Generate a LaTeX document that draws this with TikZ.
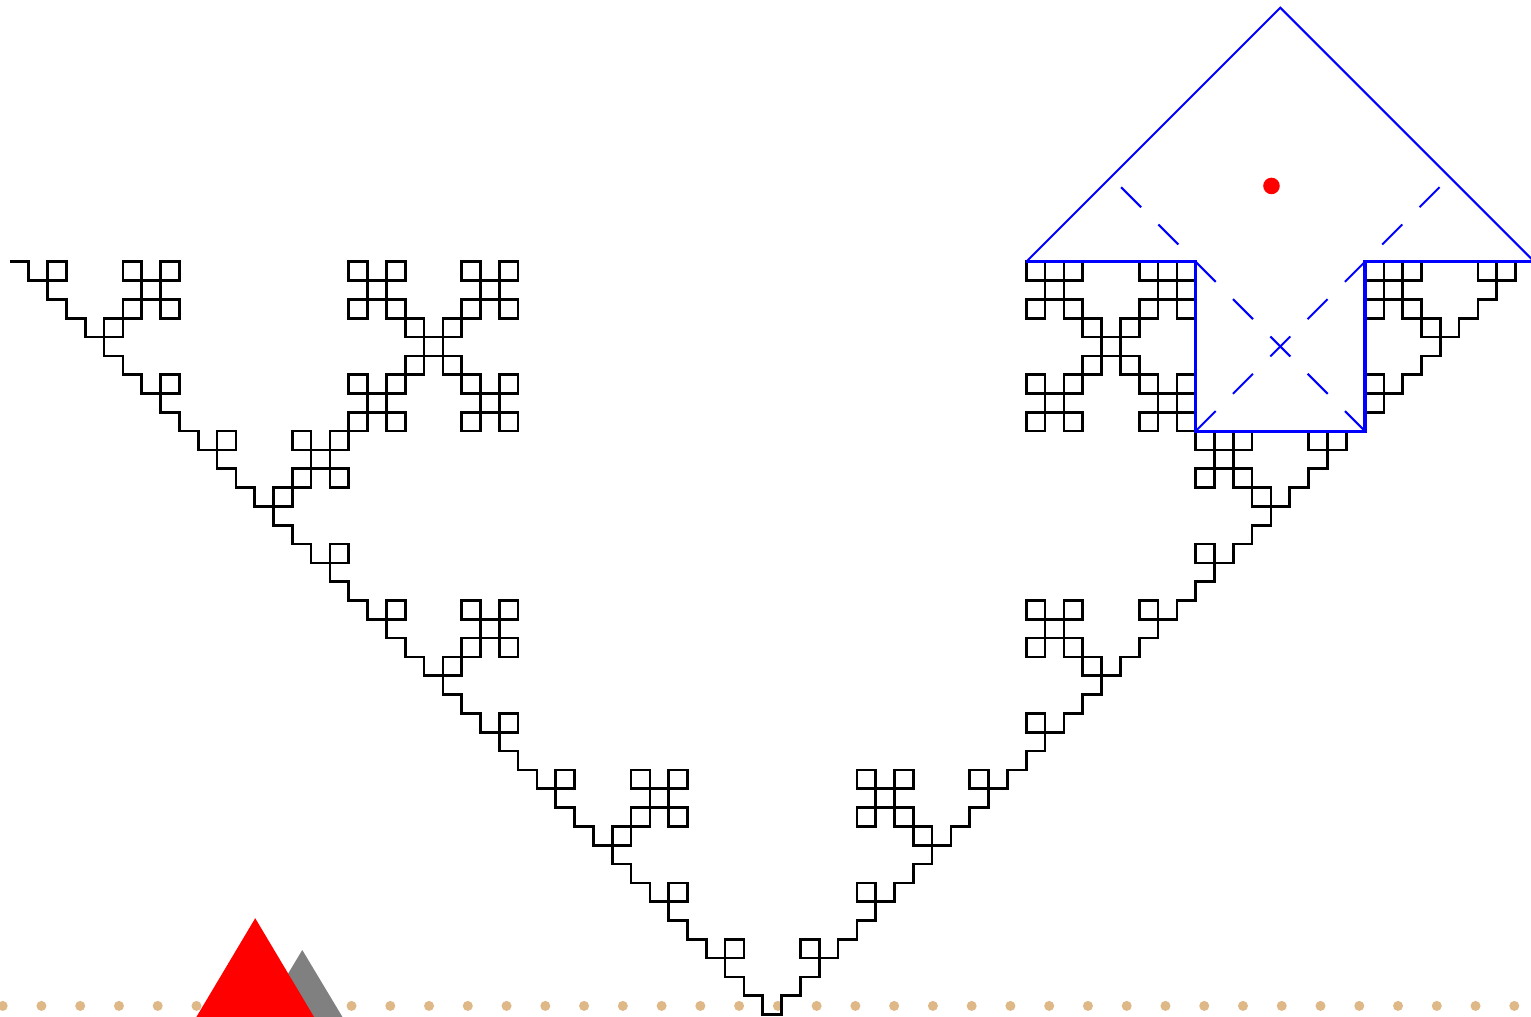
\documentclass[tikz,border=0pt]{standalone}
\definecolor{dottan}{RGB}{222,184,135}
\definecolor{genblue}{RGB}{0,0,255}
\tikzset{
  curvestyle/.style={line width=2pt, black, line join=miter},
  genthin/.style={genblue, line width=1.5pt},
  genthick/.style={genblue, line width=2.5pt},
  gendash/.style={genblue, line width=1.5pt, dash pattern=on 21.4pt off 18.5pt},
  tandot/.style={fill=dottan, draw=none},
}
% quadratic Koch curve (notch on the right-hand side), drawn with pgf
\newcount\qkX \newcount\qkY
\def\qkstep#1{%
  \ifcase#1 \global\advance\qkX by 1 \or \global\advance\qkY by -1 \or \global\advance\qkX by -1 \or \global\advance\qkY by 1 \fi
  \pgfpathlineto{\pgfpointxy{\the\qkX}{\the\qkY}}}
\def\qkR#1{\ifcase#1 1\or 2\or 3\or 0\fi}
\def\qkL#1{\ifcase#1 3\or 0\or 1\or 2\fi}
\def\qk#1#2{%
  \ifnum#1=0 \qkstep{#2}\else\expandafter\qkrec\expandafter{\the\numexpr#1-1\relax}{#2}\fi}
\def\qkrec#1#2{%
  \edef\qktmp{\noexpand\qk{#1}{#2}\noexpand\qk{#1}{\qkR{#2}}\noexpand\qk{#1}{#2}\noexpand\qk{#1}{\qkL{#2}}\noexpand\qk{#1}{#2}}%
  \qktmp}
\begin{document}
\begin{tikzpicture}[x=0.5cm,y=0.5cm]
\useasboundingbox (-0.531,-40.08) rectangle (80.82,13.91);
% dotted ground line
\foreach \k in {0,...,39}
  \fill[tandot] ({-0.388+2.0595*\k},-39.54) circle (0.266);
% triangles
\fill[gray] (15.53,-36.57) -- (18.79,-42) -- (12.27,-42) -- cycle;
\fill[red] (13.03,-34.88) -- (17.27,-42) -- (8.79,-42) -- cycle;
% the fractal curve
\begin{scope}[curvestyle]
  \global\qkX=0 \global\qkY=0
  \pgfpathmoveto{\pgfpointxy{0}{0}}
  \qk{4}{0}
  \pgfusepath{stroke}
\end{scope}
% generator highlight
\coordinate (gA) at (54,0);
\coordinate (gB) at (63,0);
\coordinate (gC) at (63,-9);
\coordinate (gD) at (72,-9);
\coordinate (gE) at (72,0);
\coordinate (gF) at (81,0);
\coordinate (gTop) at (67.5,13.5);
\coordinate (gL) at (58.5,4.5);
\coordinate (gR) at (76.5,4.5);
\draw[genthin] (gA) -- (gTop) -- (gF);
\draw[genthick] (gA) -- (gB) -- (gC) -- (gD) -- (gE) -- (gF);
\draw[gendash] (gC) -- (gR);
\draw[gendash] (gD) -- (gL);
\fill[red] (67.03,4.03) circle (0.44);
\end{tikzpicture}
\end{document}
